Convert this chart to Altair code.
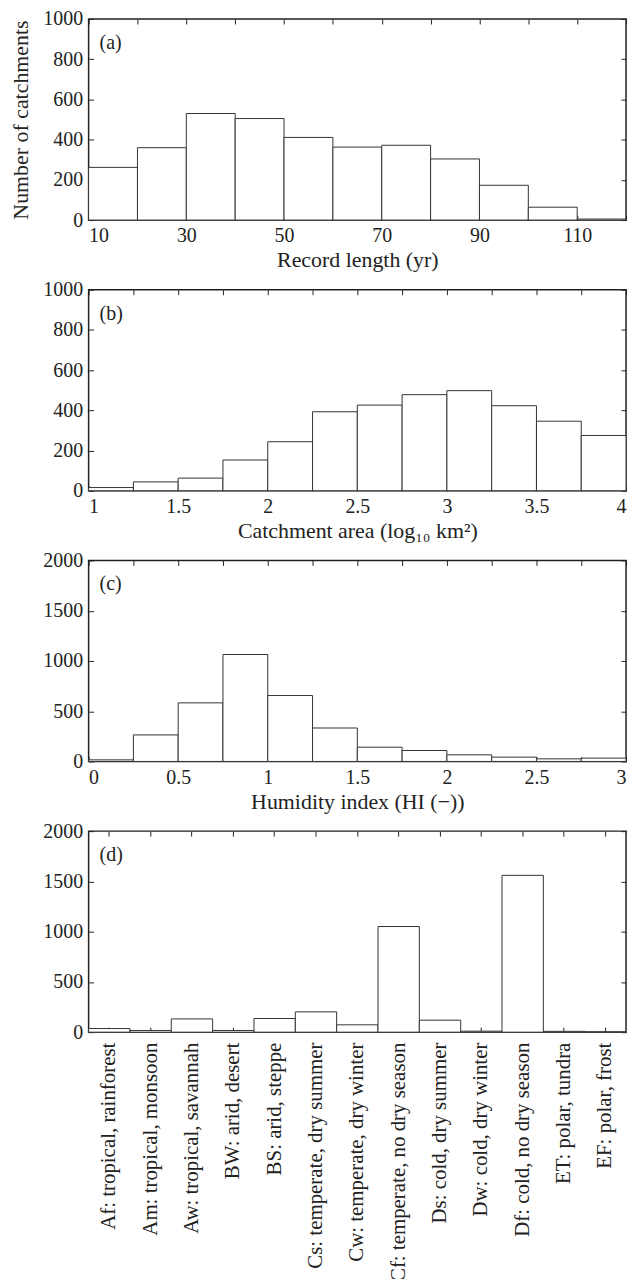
import altair as alt
import pandas as pd

FONT = "Liberation Serif"
INK = "#222222"

# ---- data ----
rec_edges = [10, 20, 30, 40, 50, 60, 70, 80, 90, 100, 110, 120]
rec_counts = [262, 360, 530, 505, 411, 363, 372, 304, 173, 64, 5]

area_edges = [1.0, 1.25, 1.5, 1.75, 2.0, 2.25, 2.5, 2.75, 3.0, 3.25, 3.5, 3.75, 4.0]
area_counts = [16, 44, 63, 153, 244, 393, 426, 478, 498, 423, 346, 275]

hi_edges = [0.0, 0.25, 0.5, 0.75, 1.0, 1.25, 1.5, 1.75, 2.0, 2.25, 2.5, 2.75, 3.0]
hi_counts = [16, 264, 583, 1064, 656, 333, 142, 109, 66, 43, 26, 33]

climate_labels = [
    "Af: tropical, rainforest",
    "Am: tropical, monsoon",
    "Aw: tropical, savannah",
    "BW: arid, desert",
    "BS: arid, steppe",
    "Cs: temperate, dry summer",
    "Cw: temperate, dry winter",
    "Cf: temperate, no dry season",
    "Ds: cold, dry summer",
    "Dw: cold, dry winter",
    "Df: cold, no dry season",
    "ET: polar, tundra",
    "EF: polar, frost",
]
climate_counts = [36, 17, 132, 17, 136, 202, 73, 1051, 119, 10, 1560, 8, 2]

rec_ticks = list(range(10, 121, 10))
quarter_ticks_area = [1 + 0.25 * i for i in range(13)]
quarter_ticks_hi = [0.25 * i for i in range(13)]

W, H = 540, 202
LABEL_FS = 20
TITLE_FS = 22


def axis_bottom(values=None, label_expr=None, title=None, **kw):
    args = dict(offset=-5, tickSize=5, domain=False, grid=False, labelPadding=6,
                titlePadding=4, title=title)
    if values is not None:
        args["values"] = values
    if label_expr is not None:
        args["labelExpr"] = label_expr
    args.update(kw)
    return alt.Axis(orient="bottom", **args)


def axis_top(values=None):
    args = dict(offset=-5, tickSize=5, domain=False, grid=False, labels=False, title=None)
    if values is not None:
        args["values"] = values
    return alt.Axis(orient="top", **args)


def axis_left(values, title=None):
    return alt.Axis(orient="left", values=values, format="d", offset=-5, tickSize=5,
                    domain=False, grid=False, labelPadding=6, title=title, titlePadding=10)


def axis_right(values):
    return alt.Axis(orient="right", values=values, offset=-5, tickSize=5, domain=False,
                    grid=False, labels=False, title=None)


def tag_layer(tag):
    return alt.Chart(pd.DataFrame({"t": [tag]})).mark_text(
        align="left", baseline="middle", fontSize=20, font=FONT, color=INK
    ).encode(x=alt.value(11), y=alt.value(24), text="t:N")


def hist_panel(edges, counts, xdom, xticks, xlabel_expr, ydom, yticks, xtitle, ytitle, tag):
    df = pd.DataFrame({"lo": edges[:-1], "hi": edges[1:], "n": counts})
    xs = alt.Scale(domain=xdom, nice=False, zero=False)
    ys = alt.Scale(domain=ydom, nice=False)
    bars = alt.Chart(df).mark_bar(fill="white", stroke="#333333", strokeWidth=1).encode(
        x=alt.X("lo:Q", scale=xs, axis=axis_bottom(xticks, xlabel_expr, xtitle)),
        x2="hi:Q",
        y=alt.Y("n:Q", scale=ys, axis=axis_left(yticks, ytitle)),
        y2=alt.datum(0),
    )
    mirror = alt.Chart(df).mark_bar(opacity=0).encode(
        x=alt.X("lo:Q", scale=xs, axis=axis_top(xticks)),
        x2="hi:Q",
        y=alt.Y("n:Q", scale=ys, axis=axis_right(yticks)),
        y2=alt.datum(0),
    )
    return alt.layer(bars, mirror, tag_layer(tag)).resolve_axis(
        x="independent", y="independent"
    ).properties(width=W, height=H)


half_expr = "(datum.value * 2) % 1 == 0 ? format(datum.value, '~g') : ''"

pa = hist_panel(rec_edges, rec_counts, [10, 120], rec_ticks,
                "(datum.value - 10) % 20 == 0 ? format(datum.value, 'd') : ''",
                [0, 1000], [0, 200, 400, 600, 800, 1000],
                "Record length (yr)", "Number of catchments", "(a)")
pb = hist_panel(area_edges, area_counts, [1, 4], quarter_ticks_area, half_expr,
                [0, 1000], [0, 200, 400, 600, 800, 1000],
                "Catchment area (log\u2081\u2080 km\u00b2)", None, "(b)")
pc = hist_panel(hi_edges, hi_counts, [0, 3], quarter_ticks_hi, half_expr,
                [0, 2000], [0, 500, 1000, 1500, 2000],
                "Humidity index (HI (\u2212))", None, "(c)")

dfd = pd.DataFrame({"climate": climate_labels, "n": climate_counts})
xsd = alt.Scale(domain=climate_labels, paddingInner=0, paddingOuter=0)
ysd = alt.Scale(domain=[0, 2000], nice=False)
bars_d = alt.Chart(dfd).mark_bar(fill="white", stroke="#333333", strokeWidth=1).encode(
    x=alt.X("climate:N", scale=xsd, sort=climate_labels,
            axis=axis_bottom(title=None, labelAngle=270, labelLimit=400, labelPadding=10,
                             labelFontSize=21)),
    y=alt.Y("n:Q", scale=ysd, axis=axis_left([0, 500, 1000, 1500, 2000])),
)
mirror_d = alt.Chart(dfd).mark_bar(opacity=0).encode(
    x=alt.X("climate:N", scale=xsd, sort=climate_labels, axis=axis_top()),
    y=alt.Y("n:Q", scale=ysd, axis=axis_right([0, 500, 1000, 1500, 2000])),
)
pd_ = alt.layer(bars_d, mirror_d, tag_layer("(d)")).resolve_axis(
    x="independent", y="independent"
).properties(width=W, height=H)

chart = alt.vconcat(pa, pb, pc, pd_, spacing=7).properties(
    padding={"left": 1, "top": -3, "right": 5, "bottom": 5}
).configure_axis(
    labelFont=FONT, titleFont=FONT, labelFontSize=LABEL_FS, titleFontSize=TITLE_FS,
    labelColor=INK, titleColor=INK, tickColor=INK, titleFontWeight="normal",
).configure_view(stroke=INK, strokeWidth=1.5).configure_text(font=FONT)

chart.save("out.html", embed_options={"renderer": "svg", "actions": False})
